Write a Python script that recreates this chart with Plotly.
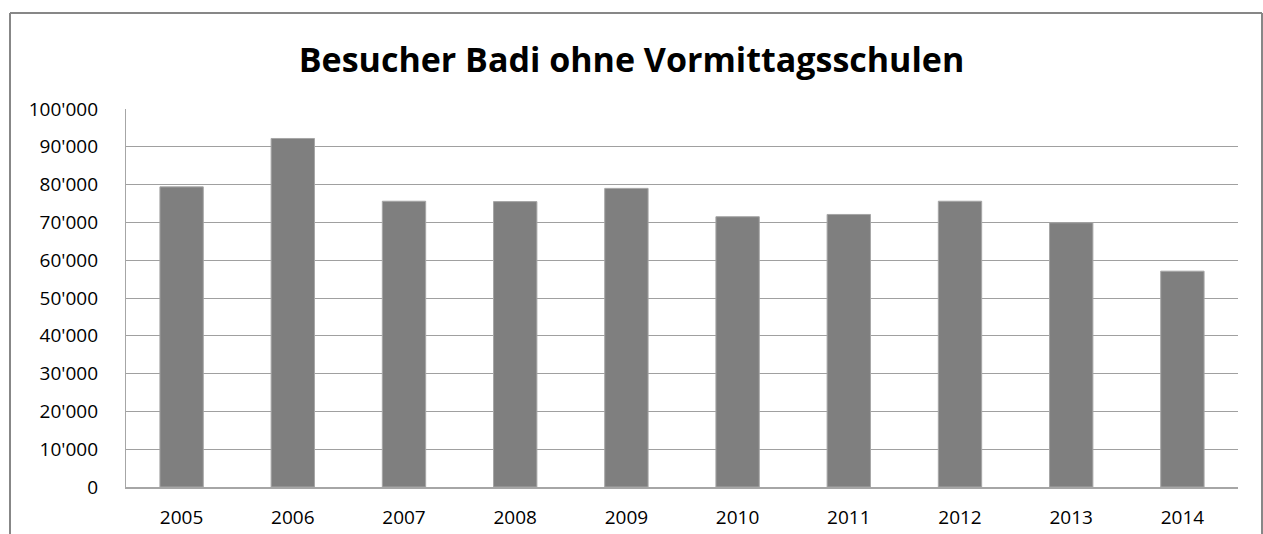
import plotly.graph_objects as go

years = ["2005", "2006", "2007", "2008", "2009", "2010", "2011", "2012", "2013", "2014"]
visitors = [79400, 92200, 75600, 75500, 79000, 71500, 72100, 75600, 69900, 57100]
tick_vals = [0, 10000, 20000, 30000, 40000, 50000, 60000, 70000, 80000, 90000, 100000]
tick_text = ["0", "10'000", "20'000", "30'000", "40'000", "50'000", "60'000", "70'000", "80'000", "90'000", "100'000"]

W, H = 1263, 534
L, R, T, B = 126, 25, 109, 47
pw, ph = W - L - R, H - T - B

fig = go.Figure(go.Bar(
    x=years, y=visitors,
    marker=dict(color="#7f7f7f", line=dict(color="#a6a6a6", width=1)),
    width=0.39,
))

fig.update_layout(
    width=W, height=H,
    margin=dict(l=L, r=R, t=T, b=B, pad=0, autoexpand=False),
    paper_bgcolor="white", plot_bgcolor="white",
    font=dict(family="Open Sans, Liberation Sans, sans-serif", size=19, color="#000000"),
    title=dict(text="<b>Besucher Badi ohne Vormittagsschulen</b>",
               x=0.5, xref="container", xanchor="center",
               y=1 - 60 / H, yanchor="middle",
               font=dict(size=34, family="Open Sans, Liberation Sans, sans-serif", color="#000000")),
    showlegend=False,
    bargap=0.61,
)

fig.update_xaxes(
    automargin=False,
    showgrid=False, showline=True, linecolor="#a6a6a6", linewidth=1.5,
    ticks="", ticklabelstandoff=12, tickfont=dict(size=19),
)
fig.update_yaxes(
    automargin=False,
    range=[0, 100000], tickvals=tick_vals, ticktext=tick_text,
    showgrid=True, gridcolor="#a0a0a0", gridwidth=1.2,
    showline=True, linecolor="#a6a6a6", linewidth=1.2,
    zeroline=False, ticks="", ticklabelstandoff=23, tickfont=dict(size=19),
)

# chart border
x0 = (10 - L) / pw
x1 = (1262 - L) / pw
y1 = (H - B - 13) / ph
fig.add_shape(type="line", xref="paper", yref="paper", x0=x0, x1=x1, y0=y1, y1=y1,
              line=dict(color="#878787", width=2))
fig.add_shape(type="line", xref="paper", yref="paper", x0=x0, x1=x0, y0=y1, y1=-B / ph - 0.01,
              line=dict(color="#878787", width=2))
fig.add_shape(type="line", xref="paper", yref="paper", x0=x1, x1=x1, y0=y1, y1=-B / ph - 0.01,
              line=dict(color="#878787", width=2))

fig.write_html("out.html", config={"displayModeBar": False},
               post_script="document.body.style.margin='0px';")
